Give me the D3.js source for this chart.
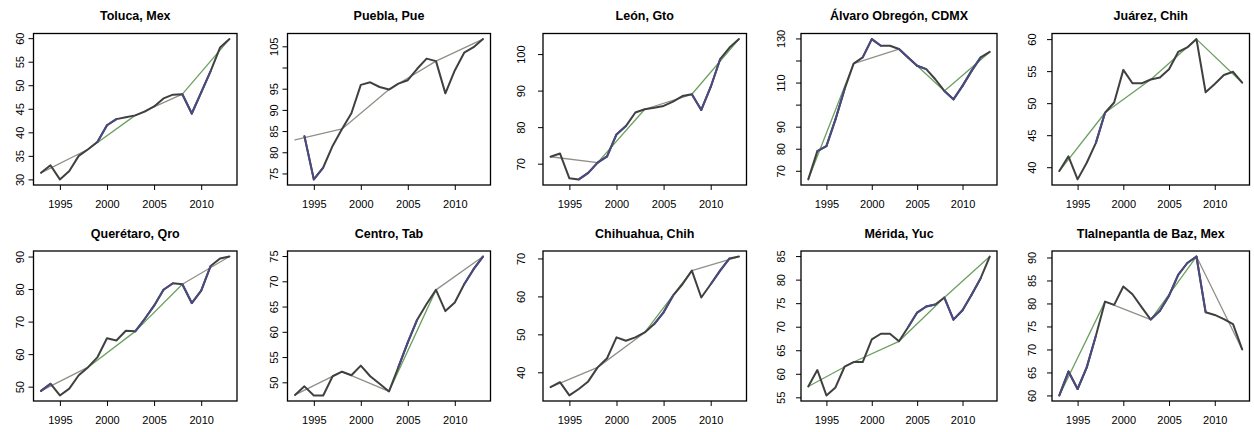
<!DOCTYPE html>
<html>
<head>
<meta charset="utf-8">
<script src="https://cdn.jsdelivr.net/npm/d3@7"></script>
<style>
  body { margin: 0; background: #fff; }
  svg text { font-family: "Liberation Sans", Arial, Helvetica, sans-serif; }
</style>
</head>
<body>
<div id="chart"></div>
<script>
// years on the x axis
var years = [1993, 1994, 1995, 1996, 1997, 1998, 1999, 2000, 2001, 2002, 2003,
             2004, 2005, 2006, 2007, 2008, 2009, 2010, 2011, 2012, 2013];
var trendYears = [1993, 1998, 2003, 2008, 2013];
var xTicks = [1995, 2000, 2005, 2010];

var cities = ["Toluca, Mex", "Puebla, Pue", "León, Gto", "Álvaro Obregón, CDMX", "Juárez, Chih",
              "Querétaro, Qro", "Centro, Tab", "Chihuahua, Chih", "Mérida, Yuc", "Tlalnepantla de Baz, Mex"];

// yearly series
var toluca = [31.4, 33.0, 30.0, 31.8, 35.0, 36.4, 38.0, 41.5, 42.8, 43.2, 43.6,
              44.4, 45.5, 47.2, 48.0, 48.1, 44.0, 48.5, 53.0, 58.0, 59.8];
var puebla = [null, 83.8, 73.6, 76.4, 81.5, 85.5, 89.2, 95.9, 96.5, 95.4, 94.8,
              96.2, 97.0, 99.7, 102.1, 101.5, 93.9, 99.3, 103.5, 104.8, 106.7];
var leon = [71.9, 72.8, 66.0, 65.7, 67.5, 70.3, 72.0, 78.0, 80.3, 84.0, 84.9,
            85.3, 85.8, 87.0, 88.5, 89.0, 84.7, 91.0, 98.6, 101.8, 104.1];
var alvaro = [66.1, 78.9, 81.2, 93.3, 107.0, 118.6, 121.4, 129.7, 126.7, 126.7, 125.2,
              121.4, 117.6, 116.1, 111.5, 106.2, 102.4, 108.5, 115.3, 121.4, 123.9];
var juarez = [39.4, 41.7, 38.1, 40.7, 43.8, 48.5, 50.1, 55.2, 53.1, 53.1, 53.7,
              54.0, 55.3, 58.0, 58.7, 60.0, 51.7, 53.0, 54.4, 54.9, 53.2];
var queretaro = [48.7, 50.9, 47.3, 49.4, 53.5, 56.0, 59.1, 64.9, 64.2, 67.2, 67.0,
                 70.8, 74.9, 79.8, 81.8, 81.5, 75.7, 79.5, 87.1, 89.4, 90.0];
var centro = [47.5, 49.2, 47.4, 47.4, 51.2, 52.1, 51.4, 53.3, 51.2, 49.7, 48.2,
              53.0, 57.9, 62.4, 65.5, 68.3, 64.1, 65.8, 69.4, 72.4, 74.9];
var chihuahua = [36.1, 37.4, 33.9, 35.6, 37.6, 41.3, 43.7, 49.2, 48.3, 49.2, 50.5,
                 52.7, 55.8, 60.2, 63.2, 66.8, 59.7, 63.2, 66.8, 70.0, 70.5];
var merida = [57.3, 60.8, 55.4, 57.1, 61.5, 62.5, 62.5, 67.3, 68.5, 68.5, 66.9,
              69.9, 73.0, 74.3, 74.7, 76.2, 71.5, 73.5, 76.8, 80.3, 84.9];
var tlalnepantla = [60.0, 65.2, 61.4, 66.1, 73.0, 80.4, 79.7, 83.7, 82.0, 79.2, 76.5,
                    78.4, 81.7, 86.2, 88.8, 90.2, 78.1, 77.5, 76.6, 75.5, 70.0];

// five-year trend values
var trendToluca = [31.4, 36.4, 43.6, 48.1, 59.8];
var trendPuebla = [82.9, 85.5, 94.8, 101.5, 106.7];
var trendLeon = [71.9, 70.3, 84.9, 89.0, 104.1];
var trendAlvaro = [66.1, 118.6, 125.2, 106.2, 123.9];
var trendJuarez = [39.4, 48.5, 53.7, 60.0, 53.2];
var trendQueretaro = [48.7, 56.0, 67.0, 81.5, 90.0];
var trendCentro = [47.5, 52.1, 48.2, 68.3, 74.9];
var trendChihuahua = [36.1, 41.3, 50.5, 66.8, 70.5];
var trendMerida = [57.3, 62.5, 66.9, 76.2, 84.9];
var trendTlalnepantla = [60.0, 80.4, 76.5, 90.2, 70.0];

// y tick labels ("" = tick without label)
var yTicks = [
  [[30,"30"],[35,"35"],[40,"40"],[45,"45"],[50,"50"],[55,"55"],[60,"60"]],
  [[75,"75"],[80,"80"],[85,"85"],[90,"90"],[95,"95"],[100,""],[105,"105"]],
  [[70,"70"],[80,"80"],[90,"90"],[100,"100"]],
  [[70,"70"],[80,"80"],[90,"90"],[100,""],[110,"110"],[120,""],[130,"130"]],
  [[40,"40"],[45,"45"],[50,"50"],[55,"55"],[60,"60"]],
  [[50,"50"],[60,"60"],[70,"70"],[80,"80"],[90,"90"]],
  [[50,"50"],[55,"55"],[60,"60"],[65,"65"],[70,"70"],[75,"75"]],
  [[40,"40"],[50,"50"],[60,"60"],[70,"70"]],
  [[55,"55"],[60,"60"],[65,"65"],[70,"70"],[75,"75"],[80,"80"],[85,"85"]],
  [[60,"60"],[65,"65"],[70,"70"],[75,"75"],[80,"80"],[85,"85"],[90,"90"]]
];

var series = [toluca, puebla, leon, alvaro, juarez, queretaro, centro, chihuahua, merida, tlalnepantla];
var trends = [trendToluca, trendPuebla, trendLeon, trendAlvaro, trendJuarez,
              trendQueretaro, trendCentro, trendChihuahua, trendMerida, trendTlalnepantla];

// start years of the segments drawn in blue
var blueSegs = [
  [1999, 2000, 2008, 2009, 2010],
  [1994, 1995],
  [1996, 1997, 1998, 1999, 2000, 2008, 2009, 2010],
  [1994, 1995, 1996, 1999, 2000, 2003, 2004, 2005, 2008, 2009, 2010, 2011],
  [1997],
  [1993, 2003, 2004, 2005, 2006, 2008, 2009, 2010],
  [2004, 2005, 2011, 2012],
  [2004, 2005, 2010, 2011],
  [2004, 2005, 2006, 2008, 2009, 2010, 2011],
  [1993, 1994, 1995, 1996, 2003, 2004, 2005, 2006, 2007, 2008]
];
// colour of each trend segment: g = green, k = grey
var trendCols = ["kgkg", "kkkk", "kgkg", "gkgg", "gggg", "kggk", "kkgk", "kkgk", "gggg", "gkgk"];

var W = 1254, H = 432;
var cols = [
  { l: 33.5, r: 237, gap: 13 },
  { l: 287.5, r: 490.5, gap: 13 },
  { l: 543, r: 746.5, gap: 22 },
  { l: 801, r: 997, gap: 20 },
  { l: 1052, r: 1249.5, gap: 20 }
];
var rows = [
  { t: 33.5, b: 185, title: 19.5 },
  { t: 251, b: 401, title: 237.5 }
];

var svg = d3.select("#chart").append("svg")
  .attr("width", W)
  .attr("height", H);
svg.append("rect").attr("width", W).attr("height", H).attr("fill", "#fff");

var dataCol = "#404040", blueCol = "#4a4a80";
var greenCol = "#6ca060", greyCol = "#909088";

cities.forEach(function (name, i) {
  var c = cols[i % 5], r = rows[Math.floor(i / 5)];
  var vals = series[i], tr = trends[i];

  var all = vals.filter(function (v) { return v != null; }).concat(tr);
  var lo = d3.min(all), hi = d3.max(all), pad = (hi - lo) * 0.04;

  var x = d3.scaleLinear().domain([1993 - 0.8, 2013 + 0.8]).range([c.l, c.r]);
  var y = d3.scaleLinear().domain([lo - pad, hi + pad]).range([r.b, r.t]);

  var g = svg.append("g");

  // title
  g.append("text")
    .attr("x", (c.l + c.r) / 2)
    .attr("y", r.title)
    .attr("text-anchor", "middle")
    .attr("font-size", "12.5px")
    .attr("font-weight", "bold")
    .text(name);

  // x axis
  var xa = g.append("g")
    .attr("transform", "translate(0," + r.b + ")")
    .call(d3.axisBottom(x).tickValues(xTicks).tickSize(5).tickPadding(10).tickFormat(d3.format("d")));
  xa.select(".domain").remove();
  xa.selectAll("line").attr("stroke", "#000");
  xa.selectAll("text").attr("font-size", "11px").attr("fill", "#000")
    .attr("font-family", "Liberation Sans, Arial, sans-serif");

  // y axis with rotated labels
  var tk = yTicks[i];
  var ya = g.append("g")
    .attr("transform", "translate(" + c.l + ",0)")
    .call(d3.axisLeft(y).tickValues(tk.map(function (d) { return d[0]; })).tickSize(5)
      .tickFormat(function (v) { return tk.find(function (d) { return d[0] === v; })[1]; }));
  ya.select(".domain").remove();
  ya.selectAll("line").attr("stroke", "#000");
  ya.selectAll("text")
    .attr("font-size", "11px").attr("fill", "#000")
    .attr("font-family", "Liberation Sans, Arial, sans-serif")
    .attr("text-anchor", "middle")
    .attr("x", 0).attr("dy", "0.35em")
    .attr("transform", "translate(" + (-c.gap) + ",0) rotate(-90)");

  // trend segments
  for (var k = 0; k < trendYears.length - 1; k++) {
    g.append("line")
      .attr("x1", x(trendYears[k])).attr("y1", y(tr[k]))
      .attr("x2", x(trendYears[k + 1])).attr("y2", y(tr[k + 1]))
      .attr("stroke", trendCols[i][k] === "g" ? greenCol : greyCol)
      .attr("stroke-width", 1.3)
      .attr("stroke-linecap", "round");
  }

  // yearly data line
  var pts = years.map(function (yr, j) { return { yr: yr, v: vals[j] }; });
  var line = d3.line()
    .defined(function (d) { return d.v != null; })
    .x(function (d) { return x(d.yr); })
    .y(function (d) { return y(d.v); });
  g.append("path")
    .datum(pts)
    .attr("d", line)
    .attr("fill", "none")
    .attr("stroke", dataCol)
    .attr("stroke-width", 2)
    .attr("stroke-linejoin", "round")
    .attr("stroke-linecap", "round");

  blueSegs[i].forEach(function (yr) {
    var j = years.indexOf(yr);
    if (vals[j] == null || vals[j + 1] == null) return;
    g.append("path")
      .datum([pts[j], pts[j + 1]])
      .attr("d", line)
      .attr("fill", "none")
      .attr("stroke", blueCol)
      .attr("stroke-width", 2)
      .attr("stroke-linecap", "round");
  });

  // frame
  g.append("rect")
    .attr("x", c.l).attr("y", r.t)
    .attr("width", c.r - c.l).attr("height", r.b - r.t)
    .attr("fill", "none")
    .attr("stroke", "#000")
    .attr("stroke-width", 1.3);
});
</script>
</body>
</html>
